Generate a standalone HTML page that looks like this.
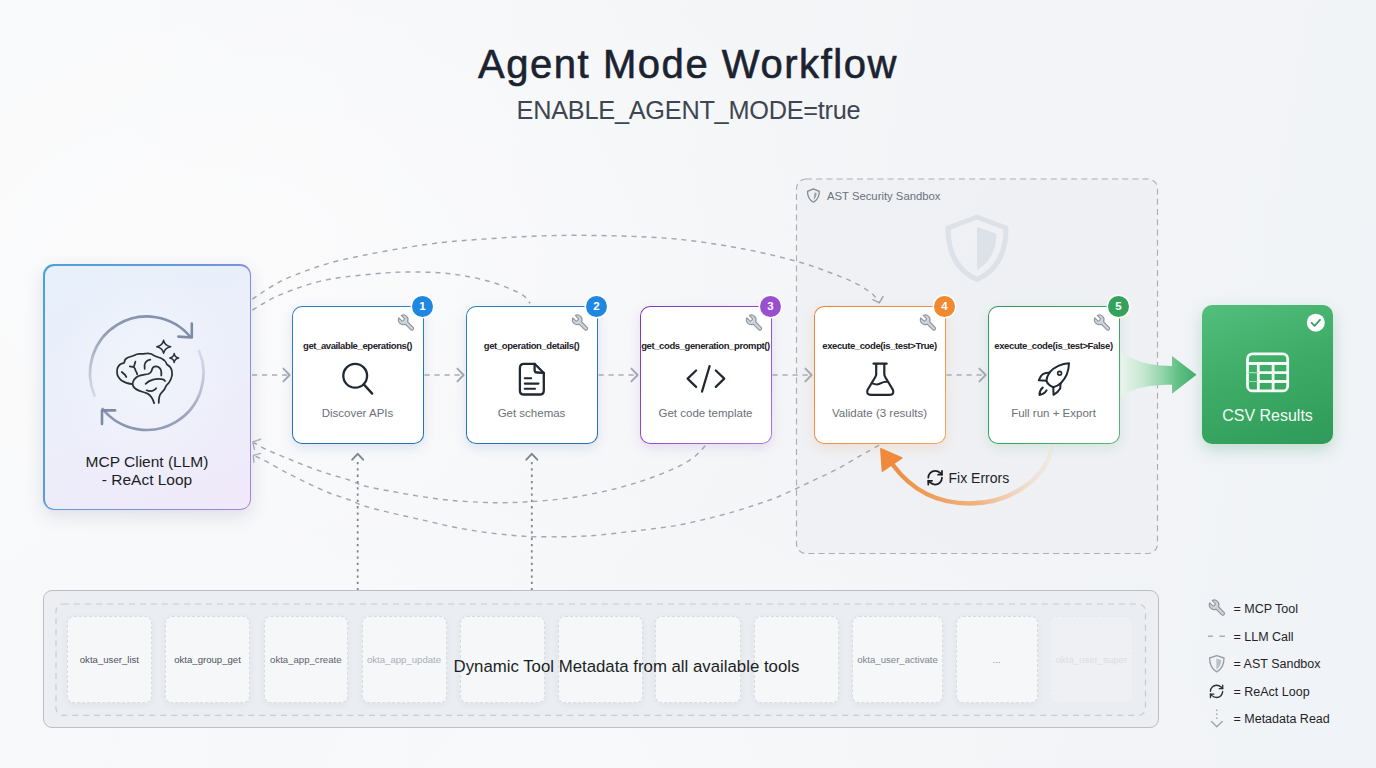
<!DOCTYPE html>
<html><head><meta charset="utf-8">
<style>
*{margin:0;padding:0;box-sizing:border-box}
html,body{width:1376px;height:768px;overflow:hidden}
body{position:relative;font-family:"Liberation Sans",sans-serif;background:#f5f6f9;}
#bg{position:absolute;left:0;top:0;width:1376px;height:768px;
background:radial-gradient(ellipse 650px 420px at 15% 35%,rgba(251,251,252,.95) 0%,rgba(251,251,252,0) 100%),
radial-gradient(ellipse 700px 300px at 40% 100%,rgba(249,250,251,.7) 0%,rgba(249,250,251,0) 100%),
linear-gradient(100deg,#f8f9fa 0%,#f5f6f8 40%,#f2f4f7 75%,#f0f3f7 100%);}
.t{position:absolute;white-space:nowrap;line-height:1}
.c{transform:translateX(-50%)}
svg.full{position:absolute;left:0;top:0;width:1376px;height:768px;overflow:visible}
.box{position:absolute;border-radius:9px;background:#fff}
.step{top:305.5px;width:131.5px;height:138.5px;border-radius:10px;border:1.7px solid transparent;box-shadow:0 4px 12px rgba(40,70,110,.13)}
.badge{position:absolute;width:21px;height:21px;border-radius:50%;color:#fff;font-size:11.5px;font-weight:bold;text-align:center;line-height:21px;box-shadow:0 0 0 1.5px #fff}
.stitle{font-size:9.5px;font-weight:bold;color:#1d2127;letter-spacing:-0.4px}
.sdesc{font-size:11.5px;color:#6b7079}
.card{position:absolute;top:616px;height:87px;border-radius:7px;background:#f6f7f9;border:1px dashed #d8dce1;box-shadow:0 2px 6px rgba(60,70,90,.06)}
.ctext{font-size:9.6px;color:#4d535c}
.leg{font-size:12.5px;color:#1f2328}
</style></head><body>
<div id="bg"></div>

<!-- Title -->
<div class="t c" style="left:688px;top:44.3px;font-size:40px;color:#1b2330;letter-spacing:1.55px;-webkit-text-stroke:0.6px #1b2330">Agent Mode Workflow</div>
<div class="t c" style="left:688.5px;top:97.9px;font-size:25.3px;letter-spacing:-0.25px;color:#3e4651">ENABLE_AGENT_MODE=true</div>

<!-- Under layer: sandbox, arcs -->
<svg class="full" viewBox="0 0 1376 768">
  <defs>
    <linearGradient id="sbfill" x1="0" y1="0" x2="0" y2="1"><stop offset="0" stop-color="#eceef2" stop-opacity=".6"/><stop offset="1" stop-color="#eceef2" stop-opacity=".6"/></linearGradient>
  </defs>
  <rect x="796.5" y="179" width="361" height="374.5" rx="9.5" fill="url(#sbfill)" stroke="#a9afb7" stroke-width="1.15" stroke-dasharray="6 4.2"/>
  <!-- watermark shield -->
  <path d="M977,217 L1006,228 C1006,255 996,271 977,279.5 C958,271 948,255 948,228 Z" fill="none" stroke="#dde1e8" stroke-width="5" stroke-linejoin="round"/>
  <path d="M977,227 L996.5,234 C996,252 989,263 977,270 Z" fill="#dde1e8"/>
  <!-- sandbox label icon -->
  <path d="M813.4,188.9 L819.3,191.3 C819.3,196.8 817,200.3 813.4,202.2 C809.8,200.3 807.5,196.8 807.5,191.3 Z" fill="#eef0f3" stroke="#80878f" stroke-width="1.25" stroke-linejoin="round"/>
  <path d="M814.4,192.4 L816.7,193.1 C816.5,196 815.5,198.3 813.7,199.8 Z" fill="#9ca3ab"/>

  <g fill="none" stroke="#a3a9b2" stroke-width="1.45" stroke-dasharray="5 5">
    <path d="M252.3,299.2 C259.0,294.8 265.0,290.1 272.3,286.0 C279.6,281.9 284.4,278.9 296.0,274.6 C307.6,270.3 320.3,265.0 341.6,260.0 C362.9,255.0 399.6,248.3 424.0,244.8 C448.4,241.3 466.6,240.3 487.9,238.8 C509.2,237.3 530.6,236.1 551.9,235.6 C573.2,235.1 594.5,235.3 615.8,235.9 C637.1,236.5 658.5,237.2 679.8,239.4 C701.1,241.6 723.8,245.2 743.8,249.0 C763.8,252.8 784.5,257.9 800.0,262.3 C815.5,266.7 827.4,271.7 836.5,275.1 C845.6,278.5 848.9,279.9 854.7,282.8 C860.5,285.8 867.1,289.6 871.1,292.8 C875.1,296.0 876.2,298.9 878.8,302.0"/>
    <path d="M252.3,310.1 C259.0,306.2 265.0,301.9 272.3,298.3 C279.6,294.7 288.1,291.5 296.0,288.7 C303.9,285.9 311.5,283.4 319.7,281.4 C327.9,279.4 334.1,278.3 345.2,276.9 C356.3,275.5 375.0,273.7 386.2,272.9 C397.4,272.1 403.6,272.0 412.3,272.0 C421.0,272.0 429.8,272.1 438.5,272.7 C447.2,273.3 456.0,274.4 464.7,275.9 C473.4,277.4 483.2,279.6 490.8,281.8 C498.4,284.0 504.9,286.7 510.4,289.0 C515.9,291.3 520.2,293.2 523.5,295.6 C526.8,298.0 527.9,300.8 530.1,303.4"/>
    <path d="M705.3,445.8 C701.4,449.7 698.5,453.8 693.7,457.4 C688.9,461.0 684.0,464.0 676.3,467.6 C668.5,471.2 656.9,475.8 647.2,479.2 C637.5,482.6 627.8,485.4 618.1,488.0 C608.4,490.6 598.8,492.6 589.1,494.5 C579.4,496.4 570.7,497.9 560.0,499.1 C549.3,500.4 534.4,501.4 524.9,502.0 C515.4,502.6 510.4,502.6 503.1,502.7 C495.8,502.8 489.8,502.7 481.3,502.3 C472.8,501.9 461.9,501.4 452.2,500.5 C442.5,499.6 432.8,498.3 423.1,496.9 C413.4,495.4 403.8,493.6 394.1,491.8 C384.4,490.0 372.5,488.0 365.0,486.0 C357.5,484.0 355.3,482.0 349.2,480.0 C343.1,478.0 335.2,476.0 328.3,473.8 C321.4,471.5 314.4,469.1 307.5,466.5 C300.6,463.9 293.6,461.0 286.7,458.1 C279.8,455.2 271.3,451.9 265.8,449.3 C260.3,446.7 257.6,444.8 253.5,442.5"/>
    <path d="M879.1,445.1 C871.6,449.3 863.8,453.7 856.7,457.8 C849.6,461.9 843.2,465.9 836.4,469.5 C829.6,473.1 822.8,476.0 816.0,479.2 C809.2,482.4 802.5,485.7 795.7,488.8 C788.9,491.9 781.8,495.4 775.3,498.0 C768.8,500.6 763.8,502.1 757.0,504.3 C750.2,506.6 743.0,509.0 734.4,511.5 C725.8,514.0 715.0,516.9 705.3,519.2 C695.6,521.5 686.0,523.8 676.3,525.5 C666.6,527.2 656.9,528.2 647.2,529.5 C637.5,530.8 627.8,531.9 618.1,533.0 C608.4,534.1 598.5,535.3 589.1,535.9 C579.8,536.5 571.5,536.7 562.0,536.8 C552.5,536.9 540.8,536.9 532.2,536.6 C523.6,536.3 518.8,535.9 510.3,535.1 C501.8,534.3 491.0,533.2 481.3,531.8 C471.6,530.4 461.9,528.7 452.2,526.7 C442.5,524.8 432.8,522.3 423.1,520.1 C413.4,517.9 403.8,515.9 394.1,513.6 C384.4,511.3 372.5,508.5 365.0,506.2 C357.5,503.9 355.3,502.1 349.2,499.8 C343.1,497.5 335.2,495.3 328.3,492.5 C321.4,489.7 314.4,486.4 307.5,483.1 C300.6,479.8 293.6,476.3 286.7,472.7 C279.8,469.1 271.2,464.1 265.8,461.2 C260.4,458.4 257.9,457.4 254.0,455.5"/>
  </g>
  <g fill="none" stroke="#a3a9b2" stroke-width="1.5" stroke-linecap="round" stroke-linejoin="round">
    <path d="M872.9,299.7 L879.3,302.9 L883,296.5"/>
  </g>
  <g fill="none" stroke="#b3b8bf" stroke-width="1.5" stroke-linecap="round" stroke-linejoin="round">
    <path d="M260.6,439.2 L252.8,442 L254.4,449.3"/>
    <path d="M260.6,453.4 L253.3,455.5 L253.9,462.3"/>
  </g>
  <!-- horizontal dashed arrows -->
  <g fill="none" stroke="#a9aeb6" stroke-width="1.7" stroke-dasharray="5.2 4.8">
    <path d="M252,375 L288,375"/>
    <path d="M424.5,375 L462,375"/>
    <path d="M598.5,375 L636,375"/>
    <path d="M772.5,375 L810,375"/>
    <path d="M946.5,375 L984,375"/>
  </g>
  <g fill="none" stroke="#a3a9b2" stroke-width="1.9" stroke-linecap="round" stroke-linejoin="round">
    <path d="M283.4,368.6 L289.6,375 L283.4,381.4"/>
    <path d="M457.4,368.6 L463.6,375 L457.4,381.4"/>
    <path d="M631.4,368.6 L637.6,375 L631.4,381.4"/>
    <path d="M805.4,368.6 L811.6,375 L805.4,381.4"/>
    <path d="M979.4,368.6 L985.6,375 L979.4,381.4"/>
  </g>
  <!-- vertical dotted lines -->
  <g fill="none" stroke="#80868f" stroke-width="1.8" stroke-dasharray="2.3 4">
    <path d="M357.7,462 L357.7,590"/>
    <path d="M531.8,462 L531.8,590"/>
  </g>
  <g fill="none" stroke="#80868f" stroke-width="1.9" stroke-linecap="round" stroke-linejoin="round">
    <path d="M352.2,459.7 L357.7,453.8 L363.2,459.7"/>
    <path d="M526.3,459.7 L531.8,453.8 L537.3,459.7"/>
  </g>
</svg>

<!-- MCP Client -->
<div class="box" style="left:43px;top:264px;width:208px;height:246px;border-radius:11px;padding:1.5px;background:linear-gradient(115deg,#48a2d8 0%,#5d9cd8 35%,#8a8ddb 75%,#a880dc 100%);box-shadow:0 6px 18px rgba(60,70,120,.14)">
  <div style="width:100%;height:100%;border-radius:9.5px;background:radial-gradient(ellipse 90px 110px at 50% 45%,rgba(245,247,252,.6),rgba(245,247,252,0)),linear-gradient(160deg,#e7f0fb 0%,#eceffa 50%,#f0e9fa 100%)"></div>
</div>
<svg class="full" viewBox="0 0 1376 768">
  <defs>
    <linearGradient id="ringA" x1="0" y1="1" x2="1" y2="0"><stop offset="0" stop-color="#8d9bb2" stop-opacity=".25"/><stop offset=".5" stop-color="#8d9bb2"/><stop offset="1" stop-color="#7f8fa8"/></linearGradient>
    <linearGradient id="ringB" x1="1" y1="0" x2="0" y2="1"><stop offset="0" stop-color="#a6a9c8" stop-opacity=".3"/><stop offset=".5" stop-color="#9ba3bd"/><stop offset="1" stop-color="#8492ab"/></linearGradient>
  </defs>
  <!-- loop arrows -->
  <path d="M94.5,395.5 A56.8,56.8 0 0 1 190.3,336.8" fill="none" stroke="url(#ringA)" stroke-width="2.7" stroke-linecap="round"/>
  <path d="M199.1,351.1 A56.8,56.8 0 0 1 102.7,409.0" fill="none" stroke="url(#ringB)" stroke-width="2.7" stroke-linecap="round"/>
  <path d="M191.8,323.5 L191.8,337.5 L178.4,336.6" fill="none" stroke="#7d8ca6" stroke-width="2.6" stroke-linecap="round" stroke-linejoin="round"/>
  <path d="M115.1,410.4 L102,410.4 L102,424" fill="none" stroke="#7d8ca6" stroke-width="2.6" stroke-linecap="round" stroke-linejoin="round"/>
  <!-- brain -->
  <g fill="none" stroke="#27313c" stroke-width="1.75" stroke-linecap="round" stroke-linejoin="round">
    <path d="M154.1,403.2 C153,399 150.5,395.5 147.5,393.6 C144.5,392.2 141,391.5 139,390.6 C135.5,389.3 133,387 132.5,384 C129,384 125,382.8 121.5,380.5 C118.5,378 117,375 117,372 C116.8,368.5 118,366 120.3,364.2 C122,363.5 123.5,363.3 124.3,362.8 C124.3,360.5 125.5,358.6 127.5,357.7 C129.5,356.8 132,356.5 134.4,355.2 C136.5,354 139,353.6 141,353.9 C143.5,354.3 145,353.5 147.5,353.3 C150,353.2 152.5,354 154.5,355.8 C157,357 159.5,357.5 162,358.7 C164.5,359.8 166,362 167,364.6 C169,365.8 171,367.5 171.8,370.5 C172.4,373 172.3,376 171,379 C170,381.5 168.3,383.8 166.3,385.6 C165.5,388.5 163.5,391 161,393.3 C159.2,395.5 158.7,398.5 158.8,402.8"/>
    <path d="M132.5,384 C133,380.5 135,378 138,376.3 C141.5,374.8 145,374.8 148,374 C150.5,373.2 151.8,371 152.2,368.8 C153,366.8 155,366 157.5,366.6 C160.5,367.5 161.8,370.5 161.3,375.5"/>
    <path d="M145.6,383.8 C147.5,381.8 150,380.5 153,379.6 C156.5,378.8 160,378.7 163,379.4 C164,379.8 164.6,380.4 165,381"/>
    <path d="M146.6,390.3 C149,391.3 152,391.3 154.2,390 C155.3,389.4 155.9,388.8 156.2,388.2"/>
    <path d="M144.7,368.8 C144.2,366.6 144.3,364.3 145.5,362.4 C146.7,360.6 148.5,359.8 150.3,359.6"/>
    <path d="M135.4,361.7 L134,366.3 M129.8,366.4 L134,367.2 M134,367.2 C135,368.5 135.5,369.5 135.6,370.8 M135.6,370.8 C136.5,372 137,373 137.2,374.4"/>
    <path d="M121.8,372 L125.2,375 L126.3,377"/>
  </g>
  <g fill="none" stroke="#27313c" stroke-linejoin="round">
    <path d="M163.6,340.4 Q164.6,345.6 170.6,346.7 Q164.6,347.8 163.6,353.2 Q162.6,347.8 156.8,346.7 Q162.6,345.6 163.6,340.4Z" stroke-width="1.6"/>
    <path d="M174.2,353.6 Q174.8,357.3 178.6,358 Q174.8,358.7 174.2,362.4 Q173.6,358.7 169.8,358 Q173.6,357.3 174.2,353.6Z" stroke-width="1.5"/>
  </g>
</svg>
<div class="t c" style="left:147px;top:452.8px;font-size:15.5px;color:#1b1f24;line-height:18.3px;text-align:center">MCP Client (LLM)<br>- ReAct Loop</div>

<!-- Steps -->
<div class="box step" style="left:292px;background:linear-gradient(#fff,#fff) padding-box,linear-gradient(160deg,#2f80c4,#2a70b0) border-box;box-shadow:0 4px 12px rgba(40,100,170,.14)"></div>
<div class="box step" style="left:466px;background:linear-gradient(#fff,#fff) padding-box,linear-gradient(160deg,#2f80c4,#2a70b0) border-box;box-shadow:0 4px 12px rgba(40,100,170,.14)"></div>
<div class="box step" style="left:640px;background:linear-gradient(#fff,#fff) padding-box,linear-gradient(135deg,#7b38bd 0%,#8e4cc9 50%,#ad78de 100%) border-box;box-shadow:0 4px 12px rgba(140,70,200,.15)"></div>
<div class="box step" style="left:814px;background:linear-gradient(#fff,#fff) padding-box,linear-gradient(135deg,#e9843a 0%,#ee934c 60%,#f2a468 100%) border-box;box-shadow:0 4px 12px rgba(240,140,60,.17)"></div>
<div class="box step" style="left:988px;background:linear-gradient(#fff,#fff) padding-box,linear-gradient(135deg,#359a5a 0%,#3fa463 60%,#5ab87c 100%) border-box;box-shadow:0 4px 12px rgba(60,160,95,.14)"></div>

<div class="t c stitle" style="left:357.5px;top:341.3px">get_available_eperations()</div>
<div class="t c stitle" style="left:531.5px;top:341.3px">get_operation_details()</div>
<div class="t c stitle" style="left:705.5px;top:341.3px">get_cods_generation_prompt()</div>
<div class="t c stitle" style="left:879.5px;top:341.3px">execute_code(is_test&gt;True)</div>
<div class="t c stitle" style="left:1053.5px;top:341.3px">execute_code(is_test&gt;False)</div>

<div class="t c sdesc" style="left:357.5px;top:407.9px">Discover APIs</div>
<div class="t c sdesc" style="left:531.5px;top:407.9px">Get schemas</div>
<div class="t c sdesc" style="left:705.5px;top:407.9px">Get code template</div>
<div class="t c sdesc" style="left:879.5px;top:407.9px">Validate (3 results)</div>
<div class="t c sdesc" style="left:1053.5px;top:407.9px">Full run + Export</div>

<!-- CSV -->
<div class="box" style="left:1202px;top:305px;width:131px;height:139px;border-radius:10px;background:linear-gradient(160deg,#52c07c 0%,#3dab66 50%,#2f9a59 100%);box-shadow:0 6px 16px rgba(46,150,88,.25)"></div>
<div class="t c" style="left:1267.5px;top:407.5px;font-size:16px;color:#f2fbf5">CSV Results</div>

<!-- Over layer: icons, badges, arrows -->
<svg class="full" viewBox="0 0 1376 768">
  <defs>
    <linearGradient id="garrow" x1="1121" y1="0" x2="1197" y2="0" gradientUnits="userSpaceOnUse"><stop offset="0" stop-color="#e9f4ed"/><stop offset=".28" stop-color="#c8e8d3"/><stop offset=".55" stop-color="#92d4a9"/><stop offset=".75" stop-color="#62c086"/><stop offset="1" stop-color="#3dad67"/></linearGradient>
    <linearGradient id="oarc" x1="1052" y1="0" x2="885" y2="0" gradientUnits="userSpaceOnUse"><stop offset="0" stop-color="#f2d9c2" stop-opacity=".3"/><stop offset=".45" stop-color="#f0b27c"/><stop offset="1" stop-color="#ef8a3c"/></linearGradient>
    <g id="wrench"><path d="M14.7 6.3a1 1 0 0 0 0 1.4l1.6 1.6a1 1 0 0 0 1.4 0l3.77-3.77a6 6 0 0 1-7.94 7.94l-6.91 6.91a2.12 2.12 0 0 1-3-3l6.91-6.91a6 6 0 0 1 7.94-7.94l-3.76 3.76z"/></g>
  </defs>
  <!-- green arrow -->
  <path d="M1121,352.5 C1133,359 1143,365.5 1172,366 L1172,356 L1196.5,374.8 L1172,393.8 L1172,384.7 C1143,385 1133,389 1121,397 Z" fill="url(#garrow)"/>
  <!-- orange fix arc -->
  <path d="M1052.6,447 C1045,480 1010,503 970,503.6 C935,503.5 910,488 893,465" fill="none" stroke="url(#oarc)" stroke-width="4.5" stroke-linecap="round"/>
  <path d="M880.8,448.8 L882.4,471.2 L901.9,457.9 Z" fill="#ef8a3c" stroke="#ef8a3c" stroke-width="1.5" stroke-linejoin="round"/>

  <!-- wrenches -->
  <g fill="#cfd5dc" stroke="#8f969f" stroke-width="1.45" stroke-linejoin="round">
    <g transform="translate(416,313.4) scale(-0.8,0.8)"><use href="#wrench"/></g>
    <g transform="translate(590,313.4) scale(-0.8,0.8)"><use href="#wrench"/></g>
    <g transform="translate(764,313.4) scale(-0.8,0.8)"><use href="#wrench"/></g>
    <g transform="translate(938,313.4) scale(-0.8,0.8)"><use href="#wrench"/></g>
    <g transform="translate(1112,313.4) scale(-0.8,0.8)"><use href="#wrench"/></g>
    <g transform="translate(1226.9,598.4) scale(-0.8,0.8)"><use href="#wrench"/></g>
  </g>

  <!-- step icons -->
  <g fill="none" stroke="#1f2833" stroke-width="2.3" stroke-linecap="round" stroke-linejoin="round">
    <!-- search -->
    <circle cx="355.2" cy="375.8" r="11.9"/>
    <path d="M363.8,384.4 L372.2,393.6"/>
    <!-- file -->
    <path d="M534.6,363.8 L524,363.8 Q519.9,363.8 519.9,368 L519.9,390.4 Q519.9,394.5 524,394.5 L539.7,394.5 Q543.8,394.5 543.8,390.4 L543.8,373 Z"/>
    <path d="M534.6,363.8 L534.6,370 Q534.6,372.5 537,372.5 L543.8,372.8"/>
    <path d="M524.8,378.3 L531.2,378.3 M524.8,383.6 L538.5,383.6 M524.8,388.7 L535,388.7" stroke-width="2.1"/>
    <!-- code -->
    <path d="M696.1,370.5 L687.6,378.6 L696.1,386.9 M715.8,370.5 L724.3,378.6 L715.8,386.9 M709.6,366.1 L702,391.6" stroke-width="2.2"/>
    <!-- flask -->
    <path d="M873.5,363.7 L886.7,363.7" stroke-width="2.2"/>
    <path d="M876.2,364 L876.2,374 Q876.2,375.5 875.3,377 L867.5,390 Q866,394.9 871,394.9 L889.5,394.9 Q894.5,394.9 893,390 L885.2,377 Q884.3,375.5 884.3,374 L884.3,364" stroke-width="2.2"/>
    <path d="M872.4,383.4 C876,385 879,384.5 881,383.2 C883,382 885,381.6 887.2,381.8" stroke-width="2"/>
    <!-- rocket -->
    <path d="M1069,363.3 C1062,363.5 1054,367 1049.5,372.5 C1047.5,375.5 1046.5,378.5 1046.4,381 C1047.5,383.5 1050,386 1053.3,387.2 C1056,386.5 1059,385 1061,383 C1066,378 1068.8,371 1069,363.3 Z" stroke-width="2"/>
    <circle cx="1059.6" cy="373.2" r="1.9" stroke-width="1.7"/>
    <path d="M1049.5,372.8 C1046,372.5 1043,373.5 1041,376 L1038.8,380.3 L1046.3,380.8" stroke-width="2"/>
    <path d="M1060.6,383.5 L1060.2,388.5 C1058.5,391.5 1056,393.5 1053.5,394.8 L1053.3,387.3" stroke-width="2"/>
    <path d="M1042.8,387.6 C1040.5,389.5 1039.5,392 1039.4,394.9 C1042.3,394.6 1045,393 1046.6,390.3" stroke-width="2"/>
  </g>

  <!-- CSV table icon -->
  <g fill="none" stroke="#f4fbf6" stroke-width="2.8" stroke-linejoin="round">
    <rect x="1247.5" y="353.9" width="40.2" height="37" rx="5"/>
    <path d="M1247.5,363.5 L1287.7,363.5 M1258.3,363.5 L1258.3,390.9 M1273.1,363.5 L1273.1,390.9 M1258.3,372.6 L1287.7,372.6 M1258.3,381.5 L1287.7,381.5"/>
    <path d="M1247.5,372.6 L1258.3,372.6 M1247.5,381.5 L1258.3,381.5" stroke="#9fe0b4" stroke-width="1.2"/>
  </g>
  <!-- check circle -->
  <circle cx="1315.8" cy="322.7" r="9" fill="#fff"/>
  <path d="M1311.6,322.8 L1314.6,325.8 L1320,319.8" fill="none" stroke="#3a9f61" stroke-width="1.8" stroke-linecap="round" stroke-linejoin="round"/>

  <!-- refresh icon (Fix Errors) -->
  <g transform="translate(926,468.6) scale(0.76)" fill="none" stroke="#1b1f24" stroke-width="2.3" stroke-linecap="round" stroke-linejoin="round">
    <path d="M3 12a9 9 0 0 1 9-9 9.75 9.75 0 0 1 6.74 2.74L21 8"/><path d="M21 3v5h-5"/><path d="M21 12a9 9 0 0 1-9 9 9.75 9.75 0 0 1-6.74-2.74L3 16"/><path d="M8 16H3v5"/>
  </g>
</svg>

<!-- badges -->
<div class="badge" style="left:412px;top:295.7px;background:#1f87e0">1</div>
<div class="badge" style="left:586px;top:295.7px;background:#1f87e0">2</div>
<div class="badge" style="left:760px;top:295.7px;background:#9a4fcf">3</div>
<div class="badge" style="left:934px;top:295.7px;background:#f0892f">4</div>
<div class="badge" style="left:1108px;top:295.7px;background:#35a25c">5</div>

<div class="t" style="left:827px;top:190.5px;font-size:11.3px;color:#6b727c">AST Security Sandbox</div>
<div class="t" style="left:948.5px;top:471px;font-size:14px;color:#1b1f24">Fix Errors</div>

<!-- Metadata panel -->
<div class="box" style="left:43px;top:590px;width:1115.5px;height:138px;border-radius:9px;background:#eceef2;border:1.3px solid #b9bfc7"></div>
<svg class="full" viewBox="0 0 1376 768">
  <rect x="56" y="604" width="1089.5" height="111.3" rx="7" fill="#eaedf1" stroke="#c8ccd3" stroke-width="1.2" stroke-dasharray="6 5"/>
</svg>
<div class="card" style="left:66.7px;width:85.5px"></div>
<div class="card" style="left:164.7px;width:85.8px"></div>
<div class="card" style="left:263.5px;width:84.8px"></div>
<div class="card" style="left:361.6px;width:85.5px"></div>
<div class="card" style="left:459.8px;width:85.5px"></div>
<div class="card" style="left:557.5px;width:85.5px"></div>
<div class="card" style="left:655.2px;width:86px"></div>
<div class="card" style="left:753.5px;width:85.5px"></div>
<div class="card" style="left:851.7px;width:91.7px"></div>
<div class="card" style="left:956.2px;width:81.5px"></div>
<div class="card" style="left:1049.4px;width:84px;background:#eef0f3;border-color:#e6e9ec;box-shadow:none"></div>

<div class="t c ctext" style="left:109.4px;top:654.8px">okta_user_list</div>
<div class="t c ctext" style="left:207.5px;top:654.8px">okta_group_get</div>
<div class="t c ctext" style="left:305.8px;top:654.8px;color:#5d636c">okta_app_create</div>
<div class="t c ctext" style="left:404px;top:654.8px;color:#a9aeb5">okta_app_update</div>
<div class="t c ctext" style="left:897.5px;top:654.8px;color:#7f858e">okta_user_activate</div>
<div class="t c ctext" style="left:996.5px;top:654.8px;color:#8a9098">...</div>
<div class="t c ctext" style="left:1091.4px;top:654.8px;color:#dadee3">okta_user_super</div>

<div class="t" style="left:453.6px;top:659.2px;font-size:16.8px;color:#1b1f24">Dynamic Tool Metadata from all available tools</div>

<!-- Legend -->
<svg class="full" viewBox="0 0 1376 768">
  <path d="M1208,636.2 L1213,636.2 M1219.5,636.2 L1224.9,636.2" stroke="#a9aeb6" stroke-width="1.5"/>
  <path d="M1216.8,655.6 L1224,658 C1224,665 1221,669.5 1216.8,671.8 C1212.6,669.5 1209.6,665 1209.6,658 Z" fill="#f1f3f6" stroke="#979ea7" stroke-width="1.35" stroke-linejoin="round"/>
  <path d="M1216.4,658.4 L1221.3,659.9 C1221,664.5 1219.3,667.6 1216.4,669.6 Z" fill="#b8c1cb"/>
  <g transform="translate(1208.4,683.2) scale(0.68)" fill="none" stroke="#2a3038" stroke-width="2" stroke-linecap="round" stroke-linejoin="round">
    <path d="M3 12a9 9 0 0 1 9-9 9.75 9.75 0 0 1 6.74 2.74L21 8"/><path d="M21 3v5h-5"/><path d="M21 12a9 9 0 0 1-9 9 9.75 9.75 0 0 1-6.74-2.74L3 16"/><path d="M8 16H3v5"/>
  </g>
  <path d="M1216.8,709.5 L1216.8,721" stroke="#9aa0a8" stroke-width="1.3" stroke-dasharray="1.5 2.5"/>
  <path d="M1211.5,721.5 L1216.8,726.7 L1222.2,721.5" fill="none" stroke="#9aa0a8" stroke-width="1.3" stroke-linecap="round" stroke-linejoin="round"/>
</svg>
<div class="t leg" style="left:1233.5px;top:603.3px">= MCP Tool</div>
<div class="t leg" style="left:1233.5px;top:630.7px">= LLM Call</div>
<div class="t leg" style="left:1233.5px;top:658.3px">= AST Sandbox</div>
<div class="t leg" style="left:1233.5px;top:685.7px">= ReAct Loop</div>
<div class="t leg" style="left:1233.5px;top:713px">= Metadata Read</div>

</body></html>
